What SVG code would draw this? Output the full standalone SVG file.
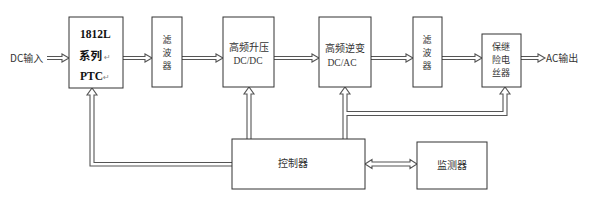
<svg xmlns="http://www.w3.org/2000/svg" width="606" height="217" viewBox="0 0 606 217">
<style>
.box{fill:#fff;stroke:#333;stroke-width:1}
.con{fill:#fff;stroke:#555;stroke-width:1.1;stroke-linejoin:miter}
.cn{font-family:"Noto Sans CJK SC","Liberation Serif",serif;font-size:10px;fill:#333}
.vt{font-family:"Noto Sans CJK SC","Liberation Serif",serif;font-size:9px;fill:#333}
.lt{font-family:"Liberation Serif","Noto Sans CJK SC",serif;font-size:9.5px;fill:#333}
.bd{font-family:"Liberation Serif","Noto Sans CJK SC",serif;font-size:11.5px;font-weight:bold;fill:#111}
.rt{font-family:"DejaVu Sans",sans-serif;font-size:8px;fill:#888}
</style>
<rect width="606" height="217" fill="#fff"/>
<g id="connectors">
  <path class="con" d="M47,56.5 L62,56.5 L62,54 L69,58 L62,62 L62,59.5 L47,59.5"/>
  <path class="con" d="M123,56.5 L145,56.5 L145,54 L152,58 L145,62 L145,59.5 L123,59.5"/>
  <path class="con" d="M182,56.5 L216,56.5 L216,54 L223,58 L216,62 L216,59.5 L182,59.5"/>
  <path class="con" d="M274,56.5 L312,56.5 L312,54 L319,58 L312,62 L312,59.5 L274,59.5"/>
  <path class="con" d="M371,56.5 L406,56.5 L406,54 L413,58 L406,62 L406,59.5 L371,59.5"/>
  <path class="con" d="M442,56.5 L475,56.5 L475,54 L482,58 L475,62 L475,59.5 L442,59.5"/>
  <path class="con" d="M521,56.5 L538,56.5 L538,54 L545,58 L538,62 L538,59.5 L521,59.5"/>
  <path class="con" d="M232,162.5 L94,162.5 L94,95 L97,95 L92,88 L87,95 L90,95 L90,166 L232,166"/>
  <path class="con" d="M247,139 L247,94 L244,94 L249,87 L254,94 L251,94 L251,139"/>
  <path class="con" d="M343,139 L343,94 L340,94 L345,87 L350,94 L347,94 L347,111.5 L503,111.5 L503,94 L500,94 L505,87 L510,94 L507,94 L507,115.5 L347,115.5 L347,139"/>
  <path class="con" d="M365,164 L372,159.5 L372,162 L410,162 L410,159.5 L417,164 L410,168.5 L410,166 L372,166 L372,168.5 Z"/>
</g>
<g id="ptc">
  <rect class="box" x="69" y="17" width="54" height="71"/>
  <text class="bd" x="80" y="38">1812L</text>
  <text class="bd" x="79" y="60">系列</text><text class="rt" x="104" y="60">↵</text>
  <text class="bd" x="80" y="80">PTC</text><text class="rt" x="103" y="80">↵</text>
</g>
<g id="filter1">
  <rect class="box" x="152" y="17" width="30" height="70"/>
  <text class="vt" x="167" y="43" text-anchor="middle">滤</text>
  <text class="vt" x="167" y="56" text-anchor="middle">波</text>
  <text class="vt" x="167" y="69" text-anchor="middle">器</text>
</g>
<g id="dcdc">
  <rect class="box" x="223" y="17" width="51" height="70"/>
  <text class="cn" x="249" y="51" text-anchor="middle">高频升压</text>
  <text class="lt" x="248" y="64" text-anchor="middle">DC/DC</text>
</g>
<g id="dcac">
  <rect class="box" x="319" y="17" width="52" height="70"/>
  <text class="cn" x="345" y="52" text-anchor="middle">高频逆变</text>
  <text class="lt" x="342" y="66" text-anchor="middle">DC/AC</text>
</g>
<g id="filter2">
  <rect class="box" x="413" y="17" width="29" height="70"/>
  <text class="vt" x="427" y="43" text-anchor="middle">滤</text>
  <text class="vt" x="427" y="56" text-anchor="middle">波</text>
  <text class="vt" x="427" y="69" text-anchor="middle">器</text>
</g>
<g id="relay">
  <rect class="box" x="482" y="34" width="39" height="53"/>
  <text class="vt" x="501" y="50" text-anchor="middle">保继</text>
  <text class="vt" x="501" y="63" text-anchor="middle">险电</text>
  <text class="vt" x="501" y="76" text-anchor="middle">丝器</text>
</g>
<g id="controller">
  <rect class="box" x="232" y="139" width="133" height="50"/>
  <text class="cn" x="293" y="167" text-anchor="middle">控制器</text>
</g>
<g id="monitor">
  <rect class="box" x="417" y="142" width="70" height="47"/>
  <text class="cn" x="452" y="169" text-anchor="middle">监测器</text>
</g>
<g id="labels">
  <text class="cn" x="10" y="62">DC输入</text>
  <text class="cn" x="546" y="62">AC输出</text>
</g>
</svg>
